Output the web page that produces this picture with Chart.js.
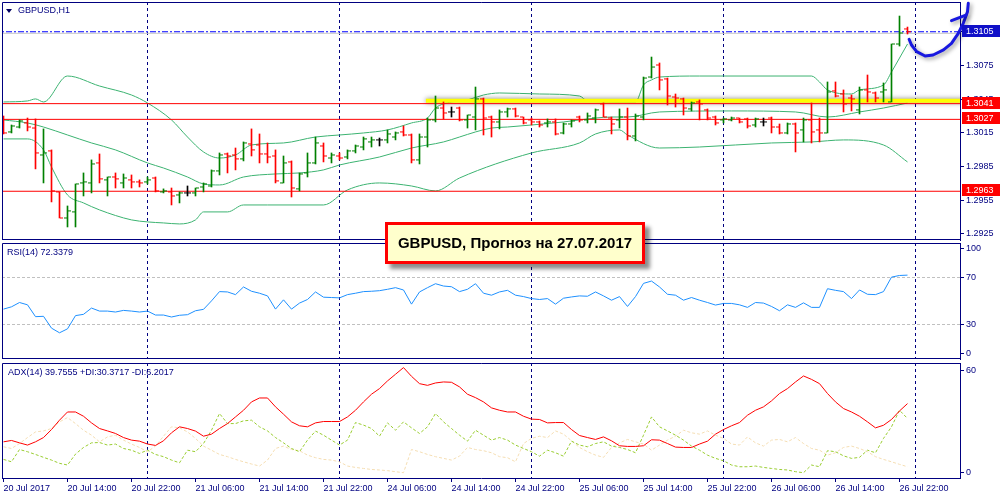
<!doctype html>
<html lang="ru">
<head>
<meta charset="utf-8">
<title>GBPUSD,H1</title>
<script src="https://cdn.jsdelivr.net/npm/chart.js@4.4.1/dist/chart.umd.min.js"></script>
<style>
  body { margin: 0; background: #fff; }
  #wrap { position: relative; width: 1000px; height: 500px; overflow: hidden; font-family: "Liberation Sans", Arial, sans-serif; }
  canvas { position: absolute; left: 0; }
  .lbl { position: absolute; font-size: 9px; line-height: 10px; color: #000080; white-space: nowrap; }
  .tri { position: absolute; left: 6px; top: 9px; width: 0; height: 0;
         border-left: 3.5px solid transparent; border-right: 3.5px solid transparent; border-top: 4px solid #000060; }
  .note { position: absolute; left: 385px; top: 222px; width: 254px; height: 36px;
          border: 3px solid #ff0000; background: #ffffcc; box-shadow: 5px 5px 4px rgba(0,0,0,.45);
          font: bold 15px "Liberation Sans", Arial, sans-serif; line-height: 36px; text-align: center; color: #000; }
</style>
</head>
<body>
<div id="wrap">
  <canvas id="cMain" width="1000" height="242" style="top:0"></canvas>
  <canvas id="cRsi" width="1000" height="119" style="top:242px"></canvas>
  <canvas id="cAdx" width="1000" height="139" style="top:361px"></canvas>
  <div class="tri"></div>
  <div class="lbl" style="left:18px;top:5px">GBPUSD,H1</div>
  <div class="lbl" style="left:7px;top:247px">RSI(14) 72.3379</div>
  <div class="lbl" style="left:8px;top:367px">ADX(14) 39.7555 +DI:30.3717 -DI:6.2017</div>
  <div class="note">GBPUSD, Прогноз на 27.07.2017</div>
</div>
<script>
const navy = '#000080';
const clear = 'rgba(0,0,0,0)';

// H1 bars, 20 Jul 06:00 .. 26 Jul 23:00
const open = [1.30265,1.30158,1.30202,1.30238,1.30193,1.29953,1.29989,1.29624,1.29392,1.29446,
  1.29704,1.29704,1.29882,1.29731,1.29757,1.29704,1.29731,1.29713,1.29713,1.29748,
  1.29624,1.29624,1.29597,1.29615,1.29615,1.29668,1.29677,1.29811,1.29962,1.29953,
  1.29918,1.30051,1.30042,1.29962,1.29944,1.29704,1.29891,1.29651,1.29793,1.29882,
  1.30033,1.29926,1.29944,1.29935,1.29989,1.30024,1.30069,1.30087,1.30087,1.30113,
  1.30158,1.30131,1.29909,1.30113,1.30265,1.30371,1.30336,1.30371,1.30265,1.30291,
  1.30452,1.30291,1.30247,1.30336,1.30363,1.30291,1.30265,1.30247,1.30238,1.30247,
  1.30149,1.30229,1.30291,1.30265,1.30282,1.30407,1.30282,1.30265,1.30291,1.30122,
  1.30291,1.30647,1.30754,1.30630,1.30469,1.30452,1.30363,1.30425,1.30354,1.30291,
  1.30265,1.30265,1.30282,1.30274,1.30220,1.30247,1.30282,1.30202,1.30149,1.30229,
  1.30176,1.30265,1.30176,1.30149,1.30523,1.30496,1.30460,1.30354,1.30532,1.30505,
  1.30514,1.30425,1.30941,1.31075];
const high = [1.30300,1.30220,1.30265,1.30282,1.30274,1.30185,1.29998,1.29624,1.29499,1.29695,
  1.29793,1.29909,1.29962,1.29757,1.29793,1.29784,1.29775,1.29731,1.29757,1.29757,
  1.29651,1.29659,1.29624,1.29677,1.29659,1.29704,1.29820,1.29971,1.29971,1.30015,
  1.30069,1.30185,1.30140,1.30060,1.29998,1.29944,1.29900,1.29793,1.29971,1.30113,
  1.30060,1.29971,1.29971,1.29998,1.30042,1.30113,1.30113,1.30104,1.30176,1.30158,
  1.30211,1.30140,1.30140,1.30282,1.30478,1.30425,1.30380,1.30380,1.30309,1.30558,
  1.30460,1.30300,1.30354,1.30371,1.30371,1.30291,1.30282,1.30256,1.30274,1.30274,
  1.30238,1.30265,1.30300,1.30327,1.30363,1.30416,1.30291,1.30363,1.30371,1.30318,
  1.30647,1.30825,1.30772,1.30638,1.30496,1.30460,1.30425,1.30443,1.30363,1.30300,
  1.30282,1.30291,1.30282,1.30282,1.30282,1.30282,1.30291,1.30229,1.30238,1.30238,
  1.30282,1.30416,1.30282,1.30603,1.30603,1.30532,1.30487,1.30558,1.30665,1.30514,
  1.30594,1.30941,1.31190,1.31092];
const low = [1.30140,1.30149,1.30193,1.30167,1.29829,1.29704,1.29535,1.29392,1.29312,1.29312,
  1.29588,1.29615,1.29704,1.29588,1.29659,1.29659,1.29659,1.29668,1.29695,1.29624,
  1.29615,1.29508,1.29526,1.29588,1.29588,1.29624,1.29668,1.29775,1.29793,1.29820,
  1.29900,1.29944,1.29882,1.29882,1.29704,1.29704,1.29579,1.29633,1.29757,1.29873,
  1.29891,1.29882,1.29909,1.29918,1.29971,1.29998,1.30024,1.30033,1.30060,1.30087,
  1.30122,1.29882,1.29873,1.30024,1.30247,1.30274,1.30291,1.30256,1.30193,1.30176,
  1.30131,1.30113,1.30185,1.30291,1.30291,1.30229,1.30220,1.30202,1.30202,1.30131,
  1.30140,1.30202,1.30247,1.30238,1.30238,1.30291,1.30140,1.30193,1.30087,1.30078,
  1.30265,1.30638,1.30532,1.30398,1.30380,1.30309,1.30345,1.30265,1.30265,1.30220,
  1.30238,1.30256,1.30238,1.30193,1.30202,1.30211,1.30149,1.30140,1.30140,1.29980,
  1.30069,1.30060,1.30069,1.30149,1.30469,1.30336,1.30345,1.30318,1.30425,1.30425,
  1.30425,1.30425,1.30923,1.31030];
const close = [1.30149,1.30211,1.30256,1.30202,1.29971,1.29971,1.29633,1.29392,1.29455,1.29695,
  1.29713,1.29873,1.29740,1.29757,1.29740,1.29748,1.29713,1.29704,1.29731,1.29633,
  1.29633,1.29588,1.29615,1.29615,1.29659,1.29695,1.29811,1.29953,1.29944,1.29918,
  1.30060,1.29998,1.29962,1.29935,1.29722,1.29882,1.29659,1.29784,1.29882,1.30060,
  1.29944,1.29953,1.29926,1.29989,1.30033,1.30096,1.30087,1.30087,1.30140,1.30149,
  1.30131,1.29909,1.30113,1.30265,1.30371,1.30327,1.30336,1.30265,1.30309,1.30452,
  1.30282,1.30247,1.30336,1.30363,1.30300,1.30238,1.30247,1.30220,1.30247,1.30140,
  1.30229,1.30256,1.30265,1.30300,1.30354,1.30291,1.30229,1.30291,1.30122,1.30300,
  1.30638,1.30736,1.30621,1.30478,1.30460,1.30371,1.30416,1.30407,1.30282,1.30238,
  1.30274,1.30282,1.30247,1.30211,1.30274,1.30247,1.30202,1.30149,1.30229,1.30149,
  1.30265,1.30158,1.30149,1.30514,1.30478,1.30407,1.30452,1.30532,1.30514,1.30460,
  1.30532,1.30941,1.31039,1.31050];

// Bollinger bands, [bar, price]
const bbUpper = [[0,1.30425],[3,1.30434],[4,1.30452],[5,1.30425],[8,1.30656],[12,1.30567],[16,1.30487],
  [18,1.30416],[21,1.30265],[23,1.30113],[25,1.29980],[27,1.29926],[29,1.29953],[31,1.30042],[35,1.30060],
  [39,1.30113],[42,1.30131],[45,1.30149],[48,1.30176],[51,1.30238],[53,1.30282],[54,1.30371],[56,1.30425],
  [58,1.30443],[60,1.30487],[62,1.30505],[67,1.30496],[72,1.30478],[73,1.30434],[77,1.30425],[79,1.30425],
  [80,1.30576],[81,1.30621],[82,1.30647],[87,1.30656],[101,1.30656],[102,1.30603],[103,1.30532],[106,1.30496],
  [107,1.30532],[110,1.30576],[111,1.30692],[112,1.30816],[113,1.30941]];
const bbMiddle = [[0,1.30265],[3,1.30238],[5,1.30202],[8,1.30131],[11,1.30060],[14,1.29998],[18,1.29882],
  [20,1.29837],[23,1.29757],[25,1.29695],[27,1.29686],[30,1.29757],[34,1.29784],[37,1.29793],[40,1.29820],
  [42,1.29864],[47,1.29935],[51,1.30015],[55,1.30069],[57,1.30113],[59,1.30158],[61,1.30193],[63,1.30202],
  [66,1.30220],[70,1.30247],[74,1.30282],[76,1.30291],[78,1.30291],[82,1.30336],[91,1.30345],[99,1.30336],
  [103,1.30291],[107,1.30336],[110,1.30371],[113,1.30416]];
const bbLower = [[0,1.30096],[3,1.30096],[5,1.29998],[6,1.29846],[8,1.29597],[10,1.29526],[12,1.29464],
  [16,1.29375],[18,1.29357],[20,1.29348],[22,1.29339],[24,1.29375],[25,1.29446],[28,1.29446],[30,1.29508],
  [33,1.29508],[40,1.29508],[43,1.29642],[47,1.29704],[51,1.29677],[54,1.29633],[57,1.29748],[66,1.29971],
  [72,1.30060],[74,1.30140],[77,1.30176],[78,1.30131],[82,1.30015],[87,1.30024],[96,1.30060],[101,1.30069],
  [105,1.30087],[110,1.30042],[113,1.29891]];

const levels = [1.3041, 1.3027, 1.2963];
const bidPrice = 1.3105;
const askPrice = 1.31036;
const trendLevel = 1.30435;
const trendFrom = 52.8;
const priceTicks = [1.2925, 1.2955, 1.2985, 1.3015, 1.3045, 1.3075, 1.3105];

const rsi = [43.0,45.0,48.7,46.7,36.5,36.8,26.6,22.6,26.0,37.4,
  38.5,43.9,41.3,41.3,40.5,41.9,41.3,40.5,41.3,37.9,
  37.9,36.2,37.7,38.2,41.6,42.8,50.1,58.1,57.8,55.5,
  62.1,58.4,56.7,54.4,43.0,51.0,43.0,48.2,51.3,57.8,
  53.3,53.0,52.7,55.5,56.7,58.1,58.4,58.9,60.1,61.5,
  59.5,47.3,57.8,61.5,64.9,62.9,62.3,58.1,60.1,64.9,
  56.7,55.0,57.8,59.2,55.0,53.8,52.1,51.3,52.1,47.3,
  52.4,53.5,54.4,54.1,57.8,54.4,50.7,53.8,45.3,53.8,
  65.2,67.2,62.1,55.8,55.0,50.7,53.0,50.7,48.7,46.5,
  47.9,47.9,46.7,44.5,48.7,48.2,45.3,41.6,46.7,44.5,
  48.4,44.5,44.5,60.6,59.2,58.1,52.1,59.5,55.8,55.5,
  58.1,70.6,72.0,72.3];
const rsiLevels = [70, 30];
const rsiTickAt = [95, 70, 30, 5];
const rsiTickText = ['100', '70', '30', '0'];

const adx = [18.1,18.9,17.5,16.2,18.1,20.6,25.3,30.8,35.6,35.6,
  33.1,29.2,25.9,24.5,23.0,20.6,19.1,18.5,16.8,16.0,
  18.7,23.4,26.9,25.9,24.4,21.4,22.6,25.9,28.8,32.7,
  36.6,41.5,43.8,43.8,38.6,34.3,29.8,27.5,26.9,29.2,
  30.0,30.0,30.0,32.7,36.6,41.5,46.0,49.3,53.8,57.7,
  61.6,56.5,52.2,51.2,52.6,53.2,53.0,50.3,46.0,44.0,
  41.5,38.0,36.6,35.6,35.6,33.1,31.4,31.2,29.2,29.4,
  29.4,25.3,21.8,20.6,19.5,21.0,18.7,15.8,15.4,15.4,
  15.8,19.3,19.1,17.1,15.0,14.8,14.8,16.8,18.5,22.6,
  25.3,27.5,29.4,33.7,36.6,38.6,42.1,46.4,49.3,53.2,
  56.7,54.7,52.2,46.4,41.5,37.6,35.6,33.1,29.8,26.3,
  27.8,31.2,36.2,40.5];
const plusDI = [7.8,6.4,13.6,12.3,10.7,9.0,7.4,5.5,4.5,10.9,
  14.8,17.5,17.7,16.2,16.8,14.2,13.2,11.3,13.2,10.7,
  9.4,7.4,5.8,13.2,12.3,17.1,24.9,34.7,28.8,28.8,
  30.4,30.8,26.9,24.5,20.6,17.5,14.2,12.3,19.1,24.4,
  22.0,19.1,16.2,19.1,29.4,27.9,25.9,21.4,29.2,24.9,
  29.8,26.3,23.0,26.9,34.7,29.8,25.9,22.0,18.5,24.9,
  22.0,19.1,20.6,19.1,16.2,14.2,12.3,9.7,13.2,11.7,
  9.7,18.5,16.2,15.2,17.1,18.1,15.6,14.8,13.6,11.7,
  22.0,32.7,26.9,24.5,22.0,19.1,15.6,13.2,10.3,8.4,
  7.0,4.5,3.5,3.5,3.9,3.1,2.5,1.9,1.6,0.6,
  0.0,4.5,3.5,12.9,12.3,9.9,8.4,9.0,13.2,11.7,
  20.1,26.9,36.6,31.8];
const minusDI = [15.2,14.2,17.1,20.6,23.9,24.5,25.9,29.8,32.3,28.8,
  24.9,22.0,18.1,21.0,22.0,19.1,16.8,14.8,12.3,15.6,
  21.4,26.9,26.3,23.9,20.1,15.6,13.2,10.7,9.4,7.8,
  6.4,5.1,3.9,7.4,14.2,15.6,13.6,12.9,10.3,8.8,
  7.8,7.4,6.4,3.9,3.1,2.5,1.9,1.6,1.2,0.6,
  0.0,13.6,12.3,10.7,9.4,8.4,7.4,9.7,14.8,13.6,
  12.9,11.7,9.4,8.8,6.4,17.1,20.1,21.4,20.6,24.5,
  22.6,18.7,14.8,12.3,10.3,9.0,14.8,17.5,19.5,18.1,
  16.8,13.2,16.2,19.1,21.4,24.9,23.4,22.6,24.5,22.0,
  20.1,16.8,16.2,21.0,17.5,15.6,19.1,19.5,18.1,20.6,
  17.1,14.2,13.2,10.3,11.7,14.8,15.6,14.2,12.3,9.4,
  7.8,6.4,4.9,3.5];
const adxTicks = [0, 60];

const timeLabels = ['20 Jul 2017','20 Jul 14:00','20 Jul 22:00','21 Jul 06:00','21 Jul 14:00','21 Jul 22:00',
  '24 Jul 06:00','24 Jul 14:00','24 Jul 22:00','25 Jul 06:00','25 Jul 14:00','25 Jul 22:00',
  '26 Jul 06:00','26 Jul 14:00','26 Jul 22:00'];
const timeLabelAt = [0,8,16,24,32,40,48,56,64,72,80,88,96,104,112];
const dayStarts = [18,42,66,90,114];

// hand drawn forecast hook, [bar, price]
const handDrawn = [[113.2,1.30983],[113.5,1.30932],[114.15,1.30873],[115.2,1.30834],[116.2,1.30843],
  [117.5,1.30888],[118.5,1.30947],[119.35,1.31036],[119.97,1.31125],[120.5,1.31229],[120.6,1.31303]];
const handWing = [[118.5,1.31149],[120.3,1.31199]];

const xMin = -0.1875, xMax = 119.5625;
const idx = open.map((_, i) => i);
const barColor = i => close[i] > open[i] ? '#008000' : close[i] < open[i] ? '#ff0000' : '#000000';
const tickOff = 0.25;
const tickVal = c => (c.tick ? c.tick.value : NaN);

Chart.defaults.font.family = '"Liberation Sans", Arial, sans-serif';
Chart.defaults.font.size = 9;
Chart.defaults.color = navy;

// keep the plot areas exactly where the panels are
let noPad = s => { s.paddingTop = 0; s.paddingBottom = 0; s.paddingLeft = 0; s.paddingRight = 0; };

let frame = {
  id: 'frame',
  afterDraw(chart, args, opts) {
    let a = chart.chartArea, c = chart.ctx;
    c.save();
    c.strokeStyle = navy;
    c.lineWidth = 1;
    c.beginPath();
    c.moveTo(a.left + 0.5, a.bottom);
    c.lineTo(a.left + 0.5, a.top + 0.5);
    c.lineTo(a.right, a.top + 0.5);
    if (opts.bottom) {
      c.moveTo(a.left, a.bottom - 0.5);
      c.lineTo(a.right, a.bottom - 0.5);
    }
    c.stroke();
    c.restore();
  }
};

let glow = {
  id: 'glow',
  beforeDatasetDraw(chart, args) {
    if (!chart.data.datasets[args.index].glow) return;
    let c = chart.ctx;
    c.save();
    c.shadowColor = 'rgba(0,0,0,0.5)';
    c.shadowBlur = 5;
  },
  afterDatasetDraw(chart, args) {
    if (chart.data.datasets[args.index].glow) chart.ctx.restore();
  }
};

let sketch = {
  id: 'sketch',
  afterDraw(chart) {
    let c = chart.ctx, sx = chart.scales.x, sy = chart.scales.y;
    c.save();
    c.strokeStyle = '#1818e0';
    c.lineWidth = 3;
    c.lineCap = 'round';
    c.lineJoin = 'round';
    c.shadowColor = 'rgba(0,0,0,0.4)';
    c.shadowBlur = 4;
    c.shadowOffsetX = 2;
    c.shadowOffsetY = 2;
    [handDrawn, handWing].forEach(path => {
      c.beginPath();
      path.forEach(([i, p], k) => {
        let px = sx.getPixelForValue(i), py = sy.getPixelForValue(p);
        if (k) c.lineTo(px, py); else c.moveTo(px, py);
      });
      c.stroke();
    });
    c.restore();
  }
};

let priceBoxes = {
  id: 'priceBoxes',
  afterDraw(chart) {
    let c = chart.ctx, sy = chart.scales.y, x0 = chart.chartArea.right + 2;
    let boxes = [[bidPrice, '#1010c8']].concat(levels.map(v => [v, '#ff0000']));
    c.save();
    c.font = '9px "Liberation Sans", Arial, sans-serif';
    c.textBaseline = 'middle';
    boxes.forEach(([v, bg]) => {
      let py = Math.round(sy.getPixelForValue(v)) - 1;
      c.fillStyle = bg;
      c.fillRect(x0, py - 6, 38, 12);
      c.fillStyle = '#ffffff';
      c.fillText(v.toFixed(4), x0 + 4, py + 0.5);
    });
    c.restore();
  }
};

let xScale = (withLabels) => ({
  type: 'linear',
  min: xMin,
  max: xMax,
  offset: false,
  afterBuildTicks: s => {
    s.ticks = timeLabelAt.concat(dayStarts).sort((a, b) => a - b).map(v => ({ value: v }));
  },
  afterFit: s => { s.height = withLabels ? 22 : 0; noPad(s); },
  ticks: {
    display: withLabels,
    autoSkip: false,
    maxRotation: 0,
    minRotation: 0,
    align: 'start',
    padding: 1,
    color: navy,
    callback: v => {
      let k = timeLabelAt.indexOf(v);
      return k < 0 ? '' : timeLabels[k];
    }
  },
  grid: {
    offset: false,
    drawTicks: withLabels,
    tickLength: 4,
    color: c => dayStarts.includes(tickVal(c)) ? navy : clear,
    tickColor: c => timeLabelAt.includes(tickVal(c)) ? navy : clear
  },
  border: { display: withLabels, color: navy, dash: [3, 3] }
});

let yFit = s => { s.width = 40; noPad(s); };

let baseOptions = (pad) => ({
  responsive: false,
  maintainAspectRatio: false,
  devicePixelRatio: 1,
  animation: false,
  events: [],
  layout: { padding: pad, autoPadding: false },
  plugins: { legend: { display: false }, tooltip: { enabled: false } }
});

let hLine = (v, color, width, order, dash) => ({
  type: 'line',
  data: [{ x: xMin - 1, y: v }, { x: xMax + 1, y: v }],
  borderColor: color,
  borderWidth: width,
  borderDash: dash || [],
  pointRadius: 0,
  clip: 0,
  order: order
});

let band = (pts) => ({
  type: 'line',
  data: pts.map(p => ({ x: p[0], y: p[1] })),
  borderColor: '#3cb371',
  borderWidth: 1,
  pointRadius: 0,
  cubicInterpolationMode: 'monotone',
  order: 50
});

// price window
let mainOpts = baseOptions({ left: 2, top: 2, right: 0, bottom: 2 });
mainOpts.plugins.frame = { bottom: true };
mainOpts.scales = {
  x: xScale(false),
  y: {
    position: 'right',
    min: 1.29196,
    max: 1.31315,
    beginAtZero: false,
    afterBuildTicks: s => { s.ticks = priceTicks.map(v => ({ value: v })); },
    afterFit: yFit,
    ticks: { color: navy, padding: 2, callback: v => v.toFixed(4) },
    grid: { drawOnChartArea: false, tickLength: 4, tickColor: navy },
    border: { color: navy }
  }
};

new Chart(document.getElementById('cMain'), {
  type: 'scatter',
  data: {
    datasets: [
      band(bbUpper),
      band(bbMiddle),
      band(bbLower),
      Object.assign({
        type: 'line',
        data: [{ x: trendFrom, y: trendLevel }, { x: xMax + 2, y: trendLevel }],
        borderColor: '#ffff00',
        borderWidth: 4,
        pointRadius: 0,
        clip: 0,
        order: 40
      }, { glow: true }),
      ...levels.map(v => hLine(v, '#ff0000', 1, 30)),
      hLine(askPrice, '#c8c8c8', 1, 31),
      hLine(bidPrice, '#0000ff', 1, 30, [6, 2, 2, 2]),
      {
        type: 'bar',
        data: idx.map(i => ({ x: i, y: [low[i], high[i]] })),
        backgroundColor: idx.map(barColor),
        barThickness: 1,
        borderWidth: 0,
        order: 20
      },
      {
        type: 'scatter',
        data: idx.map(i => ({ x: i - tickOff, y: open[i] })),
        pointStyle: 'line',
        pointRadius: 1.5,
        pointHoverRadius: 1.5,
        pointBorderWidth: 1,
        pointBorderColor: idx.map(barColor),
        order: 10
      },
      {
        type: 'scatter',
        data: idx.map(i => ({ x: i + tickOff, y: close[i] })),
        pointStyle: 'line',
        pointRadius: 1.5,
        pointHoverRadius: 1.5,
        pointBorderWidth: 1,
        pointBorderColor: idx.map(barColor),
        order: 10
      }
    ]
  },
  options: mainOpts,
  plugins: [glow, frame, sketch, priceBoxes]
});

// RSI window
let rsiOpts = baseOptions({ left: 2, top: 1, right: 0, bottom: 2 });
rsiOpts.plugins.frame = { bottom: true };
rsiOpts.scales = {
  x: xScale(false),
  y: {
    position: 'right',
    min: 0,
    max: 100,
    afterBuildTicks: s => { s.ticks = rsiTickAt.map(v => ({ value: v })); },
    afterFit: yFit,
    ticks: { color: navy, padding: 2, callback: v => rsiTickText[rsiTickAt.indexOf(v)] },
    grid: {
      tickLength: 4,
      tickColor: navy,
      color: c => rsiLevels.includes(tickVal(c)) ? '#c0c0c0' : clear
    },
    border: { color: navy, dash: [3, 2] }
  }
};

new Chart(document.getElementById('cRsi'), {
  type: 'line',
  data: {
    datasets: [{
      data: rsi.map((v, i) => ({ x: i, y: v })),
      borderColor: '#1e90ff',
      borderWidth: 1,
      pointRadius: 0
    }]
  },
  options: rsiOpts,
  plugins: [frame]
});

// ADX window
let adxOpts = baseOptions({ left: 2, top: 2, right: 0, bottom: 0 });
adxOpts.plugins.frame = { bottom: false };
adxOpts.scales = {
  x: xScale(true),
  y: {
    position: 'right',
    min: -3.1,
    max: 64.3,
    afterBuildTicks: s => { s.ticks = adxTicks.map(v => ({ value: v })); },
    afterFit: yFit,
    ticks: { color: navy, padding: 2 },
    grid: { drawOnChartArea: false, tickLength: 4, tickColor: navy },
    border: { color: navy }
  }
};

new Chart(document.getElementById('cAdx'), {
  type: 'line',
  data: {
    datasets: [
      { data: adx.map((v, i) => ({ x: i, y: v })), borderColor: '#ff0000', borderWidth: 1, pointRadius: 0, order: 0 },
      { data: plusDI.map((v, i) => ({ x: i, y: v })), borderColor: '#9acd32', borderWidth: 1, borderDash: [3, 2], pointRadius: 0, order: 1 },
      { data: minusDI.map((v, i) => ({ x: i, y: v })), borderColor: '#f5deb3', borderWidth: 1, borderDash: [3, 2], pointRadius: 0, order: 2 }
    ]
  },
  options: adxOpts,
  plugins: [frame]
});
</script>
</body>
</html>
